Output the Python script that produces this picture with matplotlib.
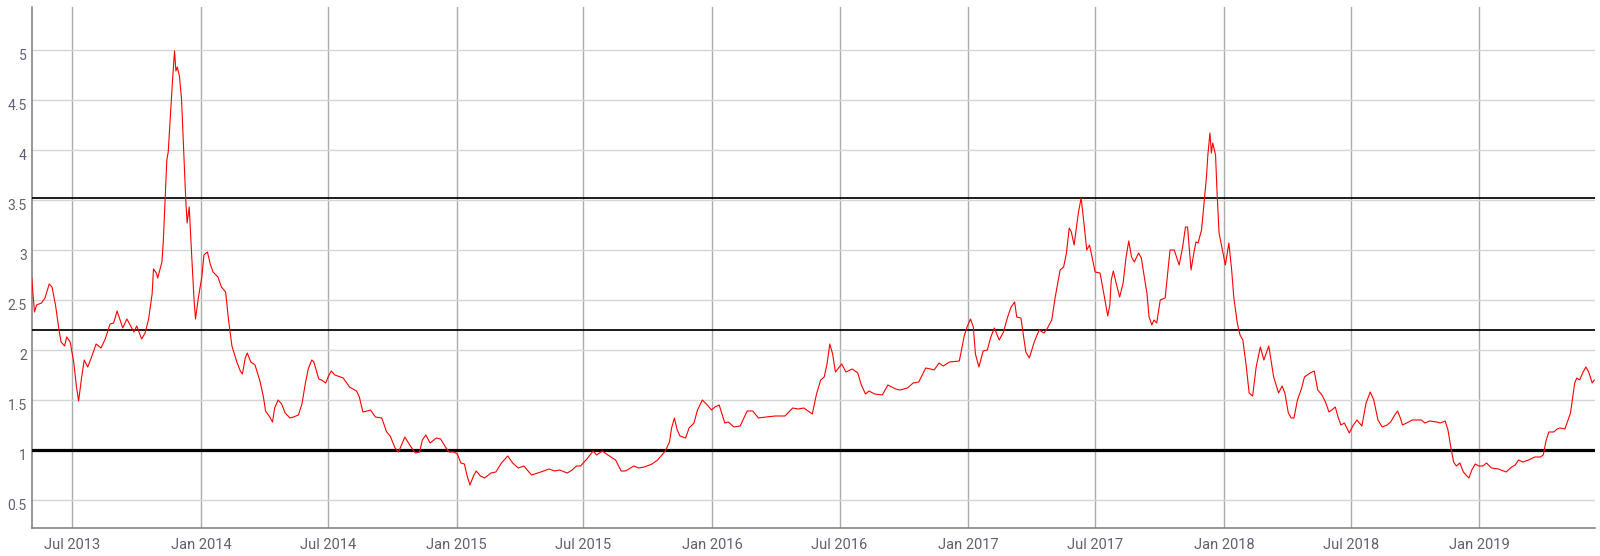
import matplotlib
matplotlib.use('Agg')
import matplotlib.pyplot as plt
import matplotlib.transforms as mtrans
import pandas as pd

dates = [
    "2013-05-04", "2013-05-08", "2013-05-11", "2013-05-18", "2013-05-23", "2013-05-29",
    "2013-06-02", "2013-06-07", "2013-06-12", "2013-06-15", "2013-06-20", "2013-06-23",
    "2013-06-28", "2013-07-03", "2013-07-07", "2013-07-10", "2013-07-14", "2013-07-18",
    "2013-07-23", "2013-07-28", "2013-08-04", "2013-08-11", "2013-08-17", "2013-08-24",
    "2013-08-29", "2013-09-03", "2013-09-11", "2013-09-17", "2013-09-27", "2013-10-01",
    "2013-10-08", "2013-10-13", "2013-10-18", "2013-10-23", "2013-10-25", "2013-10-29",
    "2013-10-31", "2013-11-06", "2013-11-08", "2013-11-13", "2013-11-15", "2013-11-19",
    "2013-11-21", "2013-11-24", "2013-11-26", "2013-11-28", "2013-12-01", "2013-12-04",
    "2013-12-07", "2013-12-10", "2013-12-12", "2013-12-15", "2013-12-19", "2013-12-22",
    "2013-12-24", "2013-12-28", "2014-01-02", "2014-01-05", "2014-01-10", "2014-01-14",
    "2014-01-18", "2014-01-25", "2014-01-30", "2014-02-05", "2014-02-09", "2014-02-14",
    "2014-02-21", "2014-02-26", "2014-03-01", "2014-03-05", "2014-03-08", "2014-03-13",
    "2014-03-19", "2014-03-26", "2014-03-31", "2014-04-03", "2014-04-09", "2014-04-13",
    "2014-04-16", "2014-04-21", "2014-04-26", "2014-05-01", "2014-05-08", "2014-05-13",
    "2014-05-20", "2014-05-25", "2014-05-30", "2014-06-03", "2014-06-08", "2014-06-11",
    "2014-06-18", "2014-06-22", "2014-06-28", "2014-07-02", "2014-07-06", "2014-07-11",
    "2014-07-23", "2014-08-01", "2014-08-11", "2014-08-15", "2014-08-20", "2014-08-26",
    "2014-08-31", "2014-09-07", "2014-09-16", "2014-09-23", "2014-09-28", "2014-10-05",
    "2014-10-10",
    "2014-10-13", "2014-10-19", "2014-10-26", "2014-11-03", "2014-11-09", "2014-11-13",
    "2014-11-18", "2014-11-24", "2014-12-03", "2014-12-09", "2014-12-16", "2014-12-21",
    "2014-12-28", "2015-01-02", "2015-01-07", "2015-01-12", "2015-01-16", "2015-01-20",
    "2015-01-25", "2015-01-29", "2015-02-04", "2015-02-10", "2015-02-19", "2015-02-26",
    "2015-03-06", "2015-03-15", "2015-03-22", "2015-03-30", "2015-04-07", "2015-04-18",
    "2015-04-27", "2015-05-05", "2015-05-13", "2015-05-21", "2015-05-28", "2015-06-08",
    "2015-06-15", "2015-06-21", "2015-06-27", "2015-07-06", "2015-07-15", "2015-07-20",
    "2015-07-28", "2015-08-05", "2015-08-16", "2015-08-24", "2015-08-30", "2015-09-04",
    "2015-09-11", "2015-09-18", "2015-09-26", "2015-10-07", "2015-10-15", "2015-10-26",
    "2015-11-01", "2015-11-04", "2015-11-08", "2015-11-12", "2015-11-16", "2015-11-24",
    "2015-11-29", "2015-12-06", "2015-12-11", "2015-12-18", "2015-12-25", "2015-12-31",
    "2016-01-05", "2016-01-11", "2016-01-19", "2016-01-24", "2016-02-01", "2016-02-10",
    "2016-02-20", "2016-02-28", "2016-03-07", "2016-03-18", "2016-03-31", "2016-04-14",
    "2016-04-25", "2016-05-03", "2016-05-11", "2016-05-23", "2016-05-29", "2016-06-04",
    "2016-06-09", "2016-06-13", "2016-06-17", "2016-06-21", "2016-06-25", "2016-07-04",
    "2016-07-10", "2016-07-19", "2016-07-27", "2016-08-01", "2016-08-07", "2016-08-12",
    "2016-08-20", "2016-08-31", "2016-09-08", "2016-09-19", "2016-09-25", "2016-10-06",
    "2016-10-14", "2016-10-22", "2016-11-01", "2016-11-08", "2016-11-13", "2016-11-20",
    "2016-11-26", "2016-12-05", "2016-12-19", "2016-12-26", "2016-12-30", "2017-01-04",
    "2017-01-08", "2017-01-11", "2017-01-16", "2017-01-22", "2017-01-28", "2017-02-02",
    "2017-02-07", "2017-02-14",
    "2017-02-20", "2017-02-26", "2017-03-03", "2017-03-08", "2017-03-11", "2017-03-17",
    "2017-03-24", "2017-03-29", "2017-04-05", "2017-04-12", "2017-04-19", "2017-04-24",
    "2017-04-30", "2017-05-05", "2017-05-12", "2017-05-17", "2017-05-21", "2017-05-25",
    "2017-05-28", "2017-06-01", "2017-06-07", "2017-06-11", "2017-06-15", "2017-06-19",
    "2017-06-23", "2017-07-01", "2017-07-08", "2017-07-13", "2017-07-19", "2017-07-22",
    "2017-07-24", "2017-07-27", "2017-07-31", "2017-08-05", "2017-08-10", "2017-08-14",
    "2017-08-18", "2017-08-22", "2017-08-26", "2017-09-01", "2017-09-05", "2017-09-11",
    "2017-09-13", "2017-09-16", "2017-09-20", "2017-09-23", "2017-09-27", "2017-10-02",
    "2017-10-09", "2017-10-16", "2017-10-22", "2017-10-29", "2017-11-03", "2017-11-07",
    "2017-11-10", "2017-11-15", "2017-11-19", "2017-11-22", "2017-11-25", "2017-11-30",
    "2017-12-04", "2017-12-07", "2017-12-09", "2017-12-12", "2017-12-14", "2017-12-16",
    "2017-12-20", "2017-12-22", "2017-12-25", "2017-12-29", "2018-01-03", "2018-01-08",
    "2018-01-12", "2018-01-15", "2018-01-20", "2018-01-24", "2018-01-28", "2018-02-02",
    "2018-02-06", "2018-02-11", "2018-02-16", "2018-02-22", "2018-02-27", "2018-03-06",
    "2018-03-13", "2018-03-20", "2018-03-25", "2018-03-29", "2018-04-03", "2018-04-07",
    "2018-04-11", "2018-04-16", "2018-04-22", "2018-04-26", "2018-04-30", "2018-05-04",
    "2018-05-10", "2018-05-15", "2018-05-21", "2018-05-26", "2018-05-31", "2018-06-04",
    "2018-06-09", "2018-06-13", "2018-06-17", "2018-06-22", "2018-06-29", "2018-07-04",
    "2018-07-10", "2018-07-17", "2018-07-23", "2018-07-29", "2018-08-03", "2018-08-09",
    "2018-08-15", "2018-08-22", "2018-08-27", "2018-09-02", "2018-09-06", "2018-09-10",
    "2018-09-13", "2018-09-19", "2018-09-27", "2018-10-04", "2018-10-10", "2018-10-15",
    "2018-10-22", "2018-11-01", "2018-11-06", "2018-11-13", "2018-11-17", "2018-11-21",
    "2018-11-25", "2018-11-29", "2018-12-04", "2018-12-09", "2018-12-14", "2018-12-17",
    "2018-12-21", "2018-12-26", "2018-12-31", "2019-01-06", "2019-01-11", "2019-01-18",
    "2019-01-28", "2019-02-08", "2019-02-16", "2019-02-21", "2019-02-26", "2019-03-04",
    "2019-03-12", "2019-03-21", "2019-03-29", "2019-04-02", "2019-04-06", "2019-04-10",
    "2019-04-17", "2019-04-22", "2019-04-26", "2019-05-03", "2019-05-11", "2019-05-17",
    "2019-05-20", "2019-05-24", "2019-05-29", "2019-06-02", "2019-06-06", "2019-06-11",
    "2019-06-14",
]

values = [
    2.72, 2.38, 2.45, 2.47, 2.52, 2.66,
    2.63, 2.45, 2.20, 2.08, 2.04, 2.13,
    2.08, 1.88, 1.63, 1.49, 1.71, 1.90,
    1.83, 1.92, 2.06, 2.02, 2.11, 2.26,
    2.27, 2.39, 2.22, 2.31, 2.18, 2.24,
    2.11, 2.17, 2.31, 2.56, 2.81, 2.77,
    2.72, 2.88, 3.09, 3.90, 3.98, 4.44,
    4.68, 4.99, 4.79, 4.83, 4.74, 4.51,
    4.01, 3.51, 3.27, 3.43, 2.88, 2.49,
    2.31, 2.52, 2.73, 2.95, 2.98, 2.86,
    2.78, 2.73, 2.63, 2.58, 2.31, 2.04,
    1.88, 1.79, 1.76, 1.92, 1.97, 1.88,
    1.85, 1.69, 1.53, 1.39, 1.33, 1.28,
    1.42, 1.50, 1.46, 1.37, 1.32, 1.33,
    1.35, 1.46, 1.67, 1.81, 1.90, 1.88,
    1.71, 1.70, 1.67, 1.74, 1.79, 1.75,
    1.72, 1.63, 1.59, 1.53, 1.38, 1.39,
    1.40, 1.33, 1.32, 1.18, 1.14, 1.02,
    0.98,
    1.03, 1.13, 1.05, 0.97, 0.98, 1.10,
    1.15, 1.07, 1.12, 1.11, 1.03, 0.98,
    0.98, 0.96, 0.87, 0.86, 0.74, 0.65,
    0.74, 0.79, 0.74, 0.72, 0.77, 0.78,
    0.87, 0.94, 0.87, 0.82, 0.84, 0.75,
    0.77, 0.79, 0.81, 0.79, 0.80, 0.77,
    0.80, 0.84, 0.84, 0.91, 0.99, 0.95,
    0.99, 0.95, 0.90, 0.79, 0.79, 0.81,
    0.84, 0.82, 0.83, 0.86, 0.90, 0.99,
    1.08, 1.22, 1.32, 1.20, 1.14, 1.12,
    1.22, 1.27, 1.40, 1.50, 1.45, 1.40,
    1.43, 1.45, 1.27, 1.28, 1.23, 1.24,
    1.39, 1.39, 1.32, 1.33, 1.34, 1.34,
    1.42, 1.41, 1.42, 1.36, 1.56, 1.70,
    1.73, 1.86, 2.06, 1.96, 1.78, 1.86,
    1.78, 1.81, 1.77, 1.65, 1.56, 1.59,
    1.56, 1.55, 1.65, 1.61, 1.60, 1.62,
    1.67, 1.68, 1.82, 1.81, 1.80, 1.87,
    1.84, 1.88, 1.89, 2.14, 2.23, 2.31,
    2.23, 1.96, 1.83, 1.99, 2.00, 2.13,
    2.22, 2.10,
    2.18, 2.33, 2.43, 2.48, 2.33, 2.32,
    1.98, 1.92, 2.08, 2.20, 2.17, 2.22,
    2.30, 2.53, 2.80, 2.83, 2.97, 3.22,
    3.18, 3.05, 3.37, 3.52, 3.27, 3.00,
    3.05, 2.78, 2.77, 2.58, 2.34, 2.45,
    2.70, 2.79, 2.67, 2.53, 2.67, 2.92,
    3.09, 2.93, 2.88, 2.97, 2.92, 2.65,
    2.57, 2.33, 2.25, 2.30, 2.27, 2.50,
    2.52, 3.00, 3.00, 2.85, 3.03, 3.23,
    3.23, 2.80, 2.97, 3.08, 3.07, 3.20,
    3.50, 3.73, 3.95, 4.17, 3.97, 4.07,
    3.95, 3.60, 3.17, 3.03, 2.85, 3.07,
    2.80, 2.53, 2.27, 2.15, 2.10, 1.83,
    1.57, 1.54, 1.83, 2.03, 1.90, 2.04,
    1.73, 1.57, 1.64, 1.57, 1.37, 1.32,
    1.32, 1.50, 1.62, 1.73, 1.75, 1.77,
    1.79, 1.60, 1.55, 1.48, 1.38, 1.40,
    1.43, 1.33, 1.25, 1.27, 1.17, 1.24,
    1.30, 1.24, 1.47, 1.58, 1.50, 1.30,
    1.23, 1.25, 1.28, 1.35, 1.39, 1.32,
    1.25, 1.27, 1.30, 1.30, 1.30, 1.27,
    1.29, 1.28, 1.27, 1.29, 1.20, 1.03,
    0.88, 0.84, 0.87, 0.78, 0.74, 0.72,
    0.80, 0.86, 0.84, 0.84, 0.87, 0.82,
    0.81, 0.78, 0.83, 0.85, 0.90, 0.88,
    0.90, 0.93, 0.93, 0.95, 1.09, 1.18,
    1.18, 1.21, 1.22, 1.21, 1.37, 1.67,
    1.72, 1.70, 1.78, 1.83, 1.78, 1.67,
    1.70,
]

levels = [1.0, 2.2, 3.52]
level_widths = [2.3, 1.25, 1.25]

y_ticks = [0.5, 1, 1.5, 2, 2.5, 3, 3.5, 4, 4.5, 5]
y_tick_labels = ["0.5", "1", "1.5", "2", "2.5", "3", "3.5", "4", "4.5", "5"]

x_tick_dates = ["2013-07-01", "2014-01-01", "2014-07-01", "2015-01-01", "2015-07-01",
                "2016-01-01", "2016-07-01", "2017-01-01", "2017-07-01", "2018-01-01",
                "2018-07-01", "2019-01-01"]
x_tick_labels = ["Jul 2013", "Jan 2014", "Jul 2014", "Jan 2015", "Jul 2015", "Jan 2016",
                 "Jul 2016", "Jan 2017", "Jul 2017", "Jan 2018", "Jul 2018", "Jan 2019"]

plt.rcParams['font.family'] = ['Roboto', 'DejaVu Sans']

fig = plt.figure(figsize=(16, 5.56), dpi=100)
ax = fig.add_axes([31.7 / 1600, 27.7 / 556, (1595 - 31.7) / 1600, (528.3 - 6.7) / 556])

x = pd.to_datetime(dates)
ax.plot(x, values, color='#ff0000', lw=0.8, zorder=4, solid_joinstyle='round')
for lv, lw in zip(levels, level_widths):
    ax.axhline(lv, color='black', lw=lw, zorder=3)

ax.set_xlim(pd.Timestamp("2013-05-04"), pd.Timestamp("2019-06-15"))
ax.set_ylim(0.217, 5.433)

ax.set_yticks(y_ticks)
ax.set_yticklabels(y_tick_labels)
ax.set_xticks(pd.to_datetime(x_tick_dates))
ax.set_xticklabels(x_tick_labels)

ax.grid(axis='y', color='#d6d6d6', lw=1.0, zorder=0)
ax.grid(axis='x', color='#ababab', lw=1.0, zorder=0)
ax.set_axisbelow(True)

for s in ['top', 'right']:
    ax.spines[s].set_visible(False)
for s in ['left', 'bottom']:
    ax.spines[s].set_color('#7a7a7a')
    ax.spines[s].set_linewidth(1.1)

ax.tick_params(axis='both', length=0, colors='#5f6072')
ax.tick_params(axis='y', labelsize=10, pad=3.5)
ax.tick_params(axis='x', labelsize=10.5, pad=7)

offset = mtrans.ScaledTranslation(0, -0.045, fig.dpi_scale_trans)
for lab in ax.get_yticklabels():
    lab.set_transform(lab.get_transform() + offset)

fig.savefig("out.png", dpi=100)
